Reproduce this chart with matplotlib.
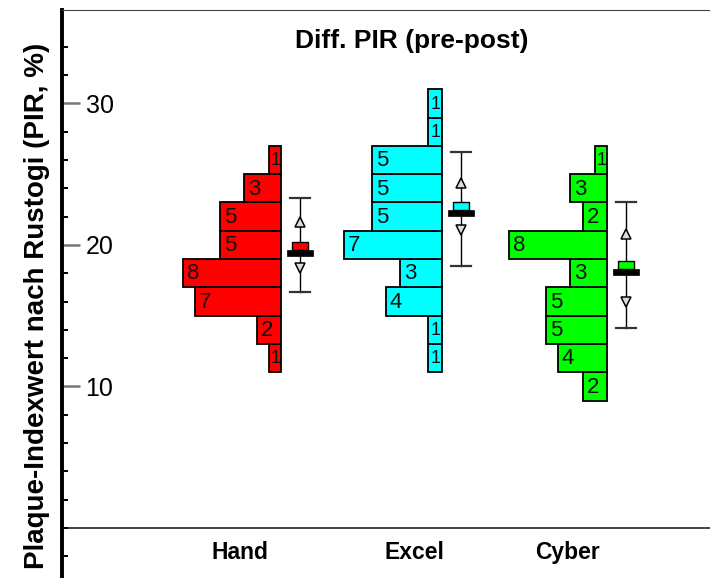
import numpy as np
import matplotlib
matplotlib.use("Agg")
import matplotlib.pyplot as plt
from matplotlib.patches import Rectangle

plt.rcParams['font.family'] = ['Liberation Sans', 'DejaVu Sans']

# histogram data (lower bin edge, count) per group, bin width 2
groups = ["Hand", "Excel", "Cyber"]
colors = ["#ff0000", "#00ffff", "#00ff00"]
hand_bins = [11, 13, 15, 17, 19, 21, 23, 25]
hand_counts = [1, 2, 7, 8, 5, 5, 3, 1]
excel_bins = [11, 13, 15, 17, 19, 21, 23, 25, 27, 29]
excel_counts = [1, 1, 4, 3, 7, 5, 5, 5, 1, 1]
cyber_bins = [9, 11, 13, 15, 17, 19, 21, 23, 25]
cyber_counts = [2, 4, 5, 5, 3, 8, 2, 3, 1]

# mean, whisker low/high, CI low/high
means = [19.65, 22.45, 18.3]
sd_lo = [16.7, 18.5, 14.1]
sd_hi = [23.3, 26.6, 23.0]
ci_lo = [18.35, 21.05, 16.0]
ci_hi = [21.65, 24.35, 20.75]

bins = [hand_bins, excel_bins, cyber_bins]
counts = [hand_counts, excel_counts, cyber_counts]

# layout (x axis in pixels from the left spine)
bar_right = [219, 380, 545]
max_w = 98
label_x = [178, 352, 506]
bw = 2.0

fig = plt.figure(figsize=(7.1, 5.78), dpi=100)
ax = fig.add_axes([62 / 710, 0, 648 / 710, 568 / 578])
ax.set_xlim(0, 648)
ax.set_ylim(-3.53, 36.6)

for i in range(3):
    c = np.array(counts[i])
    w = c / c.max() * max_w
    lo = np.array(bins[i])
    left = bar_right[i] - w
    ax.barh(lo + bw / 2, w, left=left, height=bw, color=colors[i],
            edgecolor="black", linewidth=1.3, zorder=2)
    for l, ww, y, n in zip(left, w, lo + bw / 2, c):
        if ww < 20:
            # narrow bar: squeeze the digit into the middle
            ax.text(l + ww / 2 + 1, y - 0.05, str(n), ha="center", va="center",
                    fontsize=13, color="#111111", zorder=3)
        else:
            ax.text(l + 4, y - 0.05, str(n), ha="left", va="center", fontsize=16,
                    color="#111111", zorder=3)

    ex = bar_right[i] + 19
    ax.plot([ex, ex], [sd_lo[i], sd_hi[i]], color="black", lw=1.0, zorder=3)
    for yy in (sd_lo[i], sd_hi[i]):
        ax.plot([ex - 10, ex + 10], [yy, yy], color="#333333", lw=1.6, zorder=3)
    ax.plot(ex, ci_hi[i], marker="^", ms=7, mfc="#dddddd", mec="black", mew=1.1, zorder=4)
    ax.plot(ex, ci_lo[i], marker="v", ms=7, mfc="#dddddd", mec="black", mew=1.1, zorder=4)
    # mean marker: coloured box on a black brim
    ax.add_patch(Rectangle((ex - 13, means[i] - 0.4), 26, 0.4,
                           facecolor="black", edgecolor="black", lw=0.5, zorder=5))
    ax.add_patch(Rectangle((ex - 8, means[i]), 16, 0.55,
                           facecolor=colors[i], edgecolor="black", lw=1.0, zorder=5))

    ax.text(label_x[i], -1.75, groups[i], ha="center", va="center",
            fontsize=16.5, fontweight="bold")

ax.axhline(0, color="#222222", lw=1.2, zorder=1)

for s in ["right", "bottom"]:
    ax.spines[s].set_visible(False)
ax.spines["left"].set_linewidth(2.8)
ax.spines["top"].set_linewidth(0.8)
ax.spines["top"].set_color("#444444")

ax.set_xticks([])
ax.set_yticks([10, 20, 30])
ax.set_yticks(np.arange(-2, 36, 2), minor=True)
ax.tick_params(axis="y", which="major", direction="in", length=13, width=1.8,
               color="#777777", pad=-17, labelsize=18)
ax.tick_params(axis="y", which="minor", direction="in", length=4, width=1.4,
               color="black")
for t in ax.get_yticklabels():
    t.set_horizontalalignment("left")

fig.text(412 / 710, 1 - 41 / 578, "Diff. PIR (pre-post)", ha="center", va="center",
         fontsize=19, fontweight="bold")
fig.text(37 / 710, 1 - 306 / 578, "Plaque-Indexwert nach Rustogi (PIR, %)",
         ha="center", va="center", rotation=90, fontsize=20, fontweight="bold")

fig.savefig("out.png", dpi=100)
